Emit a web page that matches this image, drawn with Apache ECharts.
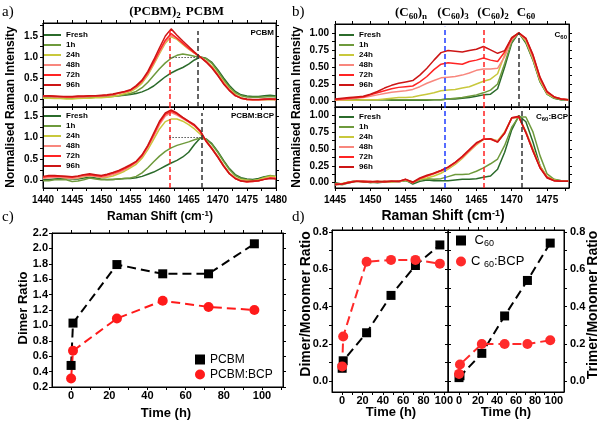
<!DOCTYPE html>
<html>
<head>
<meta charset="utf-8">
<script src="https://cdn.jsdelivr.net/npm/echarts@6/dist/echarts.min.js"></script>
<style>html,body{margin:0;padding:0;background:#fff;}#chart{width:600px;height:425px;}</style>
</head>
<body>
<div id="chart"></div>
<script>
// ===================== DATA =====================
const seriesNames = ['Fresh', '1h', '24h', '48h', '72h', '96h'];
const seriesColors = ['#2b6b2b', '#6e9a3c', '#c8c83c', '#f8877e', '#ff2424', '#cc1515'];

// Raman shift grids (cm-1)
const shiftA = [1440,1441,1442,1443,1444,1445,1446,1447,1448,1449,1450,1451,1452,1453,1454,1455,1456,1457,1458,1459,1460,1461,1462,1463,1464,1465,1466,1467,1468,1469,1470,1471,1472,1473,1474,1475,1476,1477,1478,1479,1480];
const shiftB = [1445,1446,1447,1448,1449,1450,1451,1452,1453,1454,1455,1456,1457,1458,1459,1460,1461,1462,1463,1464,1465,1466,1467,1468,1469,1470,1471,1472,1473,1474,1475,1476,1477,1478];

// Panel a (top): PCBM
const pcbmFresh = [0.05,0.06,0.05,0.04,0.04,0.03,0.04,0.05,0.05,0.06, 0.06,0.06,0.07,0.08,0.09,0.11,0.13,0.17,0.23,0.31, 0.42,0.53,0.62,0.69,0.75,0.83,0.93,1.00,0.97,0.87, 0.70,0.50,0.32,0.18,0.10,0.07,0.06,0.06,0.08,0.09, 0.07];
const pcbm1h    = [0.03,0.03,0.02,0.02,0.02,0.02,0.02,0.03,0.03,0.04, 0.04,0.05,0.06,0.08,0.10,0.13,0.18,0.27,0.40,0.56, 0.72,0.86,0.97,1.04,1.07,1.05,1.02,1.00,0.96,0.85, 0.66,0.46,0.28,0.15,0.08,0.05,0.04,0.04,0.05,0.06, 0.05];
const pcbm24h   = [0.02,0.02,0.01,0.01,0.00,0.00,0.01,0.02,0.02,0.03, 0.03,0.04,0.06,0.09,0.13,0.17,0.26,0.38,0.57,0.82, 1.08,1.33,1.48,1.42,1.30,1.19,1.09,1.00,0.91,0.78, 0.60,0.41,0.24,0.11,0.03,-0.01,-0.02,-0.02,-0.02,-0.01, -0.02];
const pcbm48h   = [0.06,0.06,0.05,0.05,0.04,0.04,0.05,0.05,0.06,0.07, 0.07,0.08,0.10,0.13,0.16,0.20,0.29,0.41,0.60,0.85, 1.11,1.36,1.52,1.44,1.32,1.20,1.10,1.00,0.90,0.76, 0.58,0.39,0.22,0.09,0.02,-0.01,-0.02,-0.02,-0.01,-0.01, -0.02];
const pcbm72h   = [0.07,0.07,0.06,0.06,0.05,0.05,0.06,0.06,0.07,0.08, 0.08,0.09,0.11,0.14,0.17,0.21,0.30,0.43,0.63,0.88, 1.15,1.40,1.56,1.45,1.33,1.21,1.10,1.00,0.89,0.75, 0.57,0.37,0.21,0.08,0.02,-0.01,-0.02,-0.02,-0.01,0.00, -0.01];
const pcbm96h   = [0.07,0.08,0.07,0.06,0.06,0.06,0.07,0.07,0.08,0.08, 0.09,0.10,0.12,0.15,0.18,0.22,0.32,0.45,0.66,0.93, 1.22,1.50,1.67,1.52,1.38,1.25,1.12,1.00,0.88,0.74, 0.56,0.36,0.20,0.08,0.02,0.00,-0.01,-0.01,0.00,0.00, 0.00];

// Panel a (bottom): PCBM:BCP
const pcbmBcpFresh = [0.02,0.03,0.04,0.05,0.05,0.04,0.04,0.06,0.08,0.06, 0.04,0.03,0.03,0.04,0.05,0.05,0.07,0.10,0.15,0.20, 0.27,0.34,0.41,0.47,0.55,0.66,0.84,0.99,0.97,0.86, 0.68,0.47,0.28,0.14,0.07,0.04,0.03,0.05,0.09,0.11, 0.09];
const pcbmBcp1h    = [0.00,0.00,0.02,0.03,0.02,-0.02,-0.01,0.02,0.06,0.04, 0.02,0.02,0.03,0.04,0.05,0.06,0.10,0.18,0.30,0.44, 0.57,0.68,0.76,0.82,0.86,0.90,0.95,0.99,0.96,0.84, 0.66,0.45,0.26,0.12,0.05,0.02,0.01,0.03,0.08,0.12, 0.10];
const pcbmBcp24h   = [0.08,0.10,0.09,0.08,0.07,0.05,0.06,0.09,0.12,0.10, 0.07,0.08,0.11,0.16,0.22,0.30,0.38,0.52,0.72,0.96, 1.20,1.37,1.43,1.43,1.38,1.30,1.20,1.08,0.93,0.76, 0.57,0.36,0.18,0.07,0.02,0.01,0.00,0.02,0.06,0.10, 0.09];
const pcbmBcp48h   = [0.05,0.07,0.08,0.08,0.06,0.05,0.07,0.10,0.12,0.10, 0.08,0.10,0.14,0.19,0.25,0.33,0.42,0.56,0.77,1.03, 1.30,1.50,1.58,1.52,1.44,1.36,1.27,1.13,0.92,0.75, 0.56,0.35,0.17,0.06,0.00,-0.02,-0.02,0.00,0.04,0.07, 0.06];
const pcbmBcp72h   = [0.08,0.10,0.11,0.10,0.09,0.08,0.10,0.13,0.14,0.12, 0.10,0.13,0.17,0.22,0.28,0.35,0.44,0.58,0.80,1.07, 1.35,1.54,1.61,1.55,1.46,1.37,1.28,1.14,0.91,0.74, 0.55,0.34,0.16,0.05,-0.01,-0.03,-0.02,0.00,0.03,0.06, 0.05];
const pcbmBcp96h   = [0.10,0.12,0.12,0.11,0.10,0.09,0.11,0.14,0.16,0.14, 0.12,0.15,0.19,0.24,0.30,0.37,0.45,0.60,0.82,1.10, 1.38,1.57,1.64,1.57,1.47,1.38,1.30,1.16,0.92,0.74, 0.55,0.34,0.16,0.05,-0.01,-0.02,-0.01,0.00,0.03,0.05, 0.04];

// Panel b (top): C60
const c60Fresh = [0.02,0.02,0.02,0.02,0.02,0.02,0.02,0.02,0.01,0.01, 0.01,0.01,0.01,0.01,0.02,0.02,0.03,0.03,0.04,0.05, 0.07,0.09,0.10,0.18,0.50,0.85,1.00,0.85,0.60,0.28, 0.10,0.04,0.02,0.02];
const c601h    = [0.02,0.02,0.02,0.02,0.02,0.02,0.02,0.02,0.02,0.02, 0.02,0.02,0.02,0.02,0.02,0.02,0.03,0.04,0.05,0.07, 0.09,0.12,0.16,0.25,0.55,0.87,1.00,0.87,0.61,0.29, 0.10,0.04,0.02,0.02];
const c6024h   = [0.01,0.01,0.01,0.01,0.02,0.02,0.02,0.03,0.04,0.05, 0.05,0.06,0.08,0.10,0.12,0.15,0.16,0.17,0.19,0.21, 0.25,0.29,0.32,0.40,0.68,0.93,1.00,0.88,0.62,0.30, 0.11,0.05,0.03,0.02];
const c6048h   = [0.02,0.02,0.03,0.04,0.05,0.07,0.09,0.11,0.13,0.14, 0.15,0.17,0.21,0.26,0.30,0.34,0.35,0.36,0.38,0.41, 0.45,0.47,0.47,0.48,0.65,0.90,1.00,0.90,0.64,0.32, 0.12,0.06,0.03,0.02];
const c6072h   = [0.02,0.03,0.04,0.05,0.06,0.09,0.12,0.15,0.18,0.20, 0.21,0.22,0.28,0.36,0.46,0.54,0.56,0.55,0.54,0.58, 0.60,0.63,0.60,0.58,0.72,0.92,1.00,0.92,0.67,0.34, 0.13,0.06,0.03,0.02];
const c6096h   = [0.03,0.04,0.05,0.06,0.07,0.10,0.14,0.19,0.23,0.26, 0.28,0.30,0.38,0.48,0.60,0.71,0.74,0.73,0.72,0.74, 0.76,0.80,0.75,0.70,0.74,0.93,1.00,0.92,0.68,0.35, 0.14,0.06,0.03,0.02];

// Panel b (bottom): C60:BCP
const c60BcpFresh = [0.00,-0.02,0.01,0.03,0.02,0.01,0.00,0.01,0.02,0.01, 0.04,-0.02,0.02,0.04,0.03,0.03,0.03,0.04,0.05,0.05, 0.06,0.08,0.10,0.20,0.45,0.78,0.99,0.90,0.60,0.25, 0.08,0.04,0.03,0.03];
const c60Bcp1h    = [-0.02,-0.03,0.00,0.02,0.02,0.00,0.01,0.02,0.01,0.02, 0.03,0.00,0.04,0.06,0.05,0.06,0.09,0.12,0.12,0.13, 0.17,0.22,0.28,0.35,0.55,0.82,0.97,0.97,0.75,0.40, 0.13,0.05,0.03,0.03];
const c60Bcp24h   = [-0.03,-0.01,0.01,0.02,0.01,0.01,0.02,0.01,0.01,0.02, 0.04,0.01,0.05,0.07,0.10,0.14,0.20,0.27,0.36,0.46, 0.56,0.64,0.65,0.62,0.75,0.95,0.97,0.76,0.50,0.25, 0.09,0.04,0.02,0.02];
const c60Bcp48h   = [-0.03,-0.02,0.00,0.03,0.02,0.01,0.02,0.01,0.02,0.01, 0.05,0.00,0.06,0.10,0.13,0.17,0.22,0.29,0.37,0.47, 0.57,0.65,0.65,0.61,0.73,0.95,0.97,0.74,0.48,0.23, 0.08,0.03,0.02,0.02];
const c60Bcp72h   = [-0.02,-0.02,0.01,0.02,0.02,0.02,0.01,0.02,0.02,0.02, 0.05,0.00,0.06,0.10,0.14,0.18,0.23,0.30,0.38,0.48, 0.58,0.64,0.64,0.60,0.74,0.96,0.97,0.74,0.47,0.22, 0.08,0.03,0.02,0.02];
const c60Bcp96h   = [-0.03,-0.02,0.00,0.02,0.01,0.01,0.02,0.01,0.02,0.02, 0.05,0.01,0.07,0.11,0.14,0.18,0.23,0.30,0.39,0.49, 0.59,0.64,0.65,0.60,0.73,0.96,0.98,0.74,0.47,0.22, 0.07,0.03,0.02,0.02];

// Marker lines (peak positions, cm-1)
const peakA = {dimerTop: 1461.7, monoTop: 1466.6, dimerBot: 1461.7, monoBot: 1467.2};
const peakB = {nmer: 1460.5, dimer: 1466.1, monoTop: 1471.0, monoBot: 1471.4};

// Panels c, d: ageing time (h) and ratios
const timeH = [0, 1, 24, 48, 72, 96];
const dimerPCBM    = [0.48, 1.03, 1.79, 1.67, 1.67, 2.06];
const dimerPCBMBCP = [0.31, 0.67, 1.09, 1.32, 1.24, 1.20];
const dimerMonoC60    = [0.07, 0.11, 0.26, 0.46, 0.62, 0.73];
const dimerMonoC60BCP = [0.08, 0.24, 0.64, 0.65, 0.65, 0.63];
const trimerMonoC60    = [0.02, 0.03, 0.15, 0.35, 0.54, 0.74];
const trimerMonoC60BCP = [0.04, 0.09, 0.20, 0.20, 0.20, 0.22];

// Tick values
const aTicksX = [1440,1445,1450,1455,1460,1465,1470,1475,1480];
const aMinorX = [1442.5,1447.5,1452.5,1457.5,1462.5,1467.5,1472.5,1477.5];
const aTicksY = [0, 0.5, 1.0, 1.5];
const aMinorY = [0.25, 0.75, 1.25];
const bTicksX = [1445,1450,1455,1460,1465,1470,1475];
const bMinorX = [1447.5,1452.5,1457.5,1462.5,1467.5,1472.5,1477.5];
const bTicksY = [0, 0.25, 0.5, 0.75, 1.0];
const bMinorY = [0.125, 0.375, 0.625, 0.875];
const cTicksX = [0, 20, 40, 60, 80, 100];
const cMinorX = [10, 30, 50, 70, 90, 110];
const cTicksY = [0.2,0.4,0.6,0.8,1.0,1.2,1.4,1.6,1.8,2.0,2.2];
const dTicksX = [0, 20, 40, 60, 80, 100];
const dMinorX = [10, 30, 50, 70, 90];
const dTicksY = [0, 0.2, 0.4, 0.6, 0.8];
const dMinorY = [0.1, 0.3, 0.5, 0.7];

// ===================== CHART =====================
const FF = '"Liberation Sans", Arial, Helvetica, sans-serif';
const SERIF = '"Liberation Serif", "Times New Roman", serif';
const chart = echarts.init(document.getElementById('chart'), null, {renderer: 'canvas', width: 600, height: 425});

const grids = [
  {left: 43, top: 23, width: 233, height: 84},
  {left: 43, top: 107, width: 233, height: 81},
  {left: 335, top: 24, width: 234, height: 83},
  {left: 335, top: 107, width: 234, height: 81},
  {left: 52, top: 233, width: 231, height: 154},
  {left: 332, top: 230, width: 116, height: 162},
  {left: 448, top: 230, width: 116, height: 162}
].map(g => Object.assign({show: true, borderColor: '#000', borderWidth: 1, backgroundColor: 'transparent', containLabel: false}, g));

const xAxes = [], yAxes = [];
function mkAxis(gi, pos, range, ticks, labels, lab) {
  return {
    gridIndex: gi, type: 'value', position: pos, min: range[0], max: range[1],
    axisLine: {show: true, onZero: false, lineStyle: {color: '#000', width: 1}},
    axisTick: {show: true, inside: false, length: 3, customValues: ticks, lineStyle: {color: '#000', width: 1}},
    axisLabel: lab ? {show: true, customValues: labels, formatter: lab.fmt, fontSize: lab.size, fontWeight: 'bold',
      fontFamily: FF, color: '#000', margin: lab.margin} : {show: false},
    splitLine: {show: false}, minorTick: {show: false}, minorSplitLine: {show: false}
  };
}
function addAxes(gi, xr, yr, xt, xl, yt, yl, xLab, yLab, yRight) {
  xAxes.push(mkAxis(gi, 'bottom', xr, xt, xl, xLab)); const xi = xAxes.length - 1;
  xAxes.push(mkAxis(gi, 'top', xr, xt, xl, null));
  yAxes.push(mkAxis(gi, 'left', yr, yt, yl, yRight ? null : yLab)); const yi = yAxes.length - 1;
  yAxes.push(mkAxis(gi, 'right', yr, yt, yl, yRight ? yLab : null));
  return [xi, yi];
}
const f0 = v => String(Math.round(v));
const f1 = v => v.toFixed(1);
const f2 = v => v.toFixed(2);

const rA1 = [-0.19, 1.81], rA2 = [-0.17, 1.71], rB1 = [-0.088, 1.13], rB2 = [-0.078, 1.118];
const axA1 = addAxes(0, [1440, 1480], rA1, aTicksX.concat(aMinorX), aTicksX, aTicksY.concat(aMinorY, [1.75]), aTicksY,
  null, {fmt: f1, size: 10, margin: 5});
const axA2 = addAxes(1, [1440, 1480], rA2, aTicksX.concat(aMinorX), aTicksX, aTicksY.concat(aMinorY), aTicksY,
  {fmt: f0, size: 10, margin: 7}, {fmt: f1, size: 10, margin: 5});
const axB1 = addAxes(2, [1445, 1478.1], rB1, bTicksX.concat(bMinorX), bTicksX, bTicksY.concat(bMinorY), bTicksY,
  null, {fmt: f2, size: 10, margin: 6});
const axB2 = addAxes(3, [1445, 1478.1], rB2, bTicksX.concat(bMinorX), bTicksX, bTicksY.concat(bMinorY), bTicksY,
  {fmt: f0, size: 10, margin: 7}, {fmt: f2, size: 10, margin: 6});
const rC = [0.2, 2.2];
const axC = addAxes(4, [-10, 111], rC, cTicksX.concat(cMinorX), cTicksX, cTicksY, cTicksY,
  {fmt: f0, size: 11, margin: 3}, {fmt: f1, size: 11, margin: 4});
const rD = [-0.057, 0.81];
const axD1 = addAxes(5, [-10, 104], rD, dTicksX.concat(dMinorX), dTicksX, dTicksY.concat(dMinorY), dTicksY,
  {fmt: f0, size: 11, margin: 3}, {fmt: f1, size: 11, margin: 4});
const axD2 = addAxes(6, [-11.6, 110.5], rD, dTicksX.concat(dMinorX), dTicksX, dTicksY.concat(dMinorY), dTicksY,
  {fmt: f0, size: 11, margin: 3}, {fmt: f1, size: 11, margin: 6}, true);

const pairs = (xs, ys) => xs.map((x, i) => [x, ys[i]]);
const series = [];
function spectra(ax, xs, sets, markData) {
  sets.forEach((ys, i) => {
    const s = {
      type: 'line', name: seriesNames[i], xAxisIndex: ax[0], yAxisIndex: ax[1], data: pairs(xs, ys),
      symbol: 'none', showSymbol: false, smooth: false, animation: false,
      lineStyle: {color: seriesColors[i], width: 1.5}, itemStyle: {color: seriesColors[i]},
      emphasis: {disabled: true}
    };
    if (i === sets.length - 1 && markData) {
      s.markLine = {silent: true, symbol: ['none', 'none'], label: {show: false}, animation: false,
        emphasis: {disabled: true}, data: markData};
    }
    series.push(s);
  });
}
const vl = (x, y1, y2, color, type, w) => [{coord: [x, y1], lineStyle: {color: color, type: type, width: w || 1.5}}, {coord: [x, y2]}];
const RED = '#ff2020', BLK = '#333', BLU = '#1f3dff', DOT = '#555';

spectra(axA1, shiftA, [pcbmFresh, pcbm1h, pcbm24h, pcbm48h, pcbm72h, pcbm96h], [
  vl(peakA.dimerTop, rA1[0], 1.69, RED, [5, 3]),
  vl(peakA.monoTop, rA1[0], 1.62, BLK, [5, 3]),
  [{coord: [peakA.dimerTop, 1.0], lineStyle: {color: DOT, type: [1.5, 1.5], width: 1}}, {coord: [peakA.monoTop, 1.0]}]
]);
spectra(axA2, shiftA, [pcbmBcpFresh, pcbmBcp1h, pcbmBcp24h, pcbmBcp48h, pcbmBcp72h, pcbmBcp96h], [
  vl(peakA.dimerBot, rA2[0], rA2[1], RED, [5, 3]),
  vl(peakA.monoBot, rA2[0], 1.57, BLK, [5, 3]),
  [{coord: [peakA.dimerBot, 1.0], lineStyle: {color: DOT, type: [1.5, 1.5], width: 1}}, {coord: [peakA.monoBot, 1.0]}]
]);
spectra(axB1, shiftB, [c60Fresh, c601h, c6024h, c6048h, c6072h, c6096h], [
  vl(peakB.nmer, rB1[0], 1.09, BLU, [5, 3]),
  vl(peakB.dimer, rB1[0], 1.07, RED, [5, 3]),
  vl(peakB.monoTop, rB1[0], 1.0, BLK, [5, 3])
]);
spectra(axB2, shiftB, [c60BcpFresh, c60Bcp1h, c60Bcp24h, c60Bcp48h, c60Bcp72h, c60Bcp96h], [
  vl(peakB.nmer, rB2[0], rB2[1], BLU, [5, 3]),
  vl(peakB.dimer, rB2[0], rB2[1], RED, [5, 3]),
  vl(peakB.monoBot, rB2[0], rB2[1], BLK, [5, 3])
]);

function ratio(name, ax, ys, sym, color, size) {
  series.push({
    type: 'line', name: name, xAxisIndex: ax[0], yAxisIndex: ax[1], data: pairs(timeH, ys),
    symbol: sym, symbolSize: size, showSymbol: true, animation: false,
    lineStyle: {color: color, width: 2, type: [9, 5]}, itemStyle: {color: color, opacity: 1},
    emphasis: {disabled: true}, z: 3
  });
}
ratio('PCBM', axC, dimerPCBM, 'rect', '#000', 9);
ratio('PCBM:BCP', axC, dimerPCBMBCP, 'circle', '#ff1a1a', 10);
ratio('C60', axD1, dimerMonoC60, 'rect', '#000', 9);
ratio('C60:BCP', axD1, dimerMonoC60BCP, 'circle', '#ff2a2a', 10);
ratio('C60', axD2, trimerMonoC60, 'rect', '#000', 9);
ratio('C60:BCP', axD2, trimerMonoC60BCP, 'circle', '#ff2a2a', 10);

const specLegend = (left, top, w) => ({
  data: seriesNames.map(n => ({name: n, icon: 'rect'})), left: left, top: top, orient: 'vertical',
  itemWidth: w, itemHeight: 2, itemGap: 0, selectedMode: false, padding: 0,
  textStyle: {fontSize: 8, lineHeight: 10, fontWeight: 'bold', fontFamily: FF, color: '#000'}
});
const legends = [
  specLegend(44, 30, 17), specLegend(44, 111, 17), specLegend(339, 30, 15), specLegend(339, 112, 15),
  {data: [{name: 'PCBM', icon: 'rect'}, {name: 'PCBM:BCP', icon: 'circle'}], left: 195, top: 353.5, orient: 'vertical',
    itemWidth: 10, itemHeight: 10, itemGap: 3, selectedMode: false, padding: 0,
    textStyle: {fontSize: 12, fontFamily: FF, color: '#000'}},
  {data: [{name: 'C60', icon: 'rect'}, {name: 'C60:BCP', icon: 'circle'}], left: 456, top: 234, orient: 'vertical',
    itemWidth: 10, itemHeight: 10, itemGap: 7, selectedMode: false, padding: 0,
    formatter: n => n === 'C60' ? ' C{s|60}' : 'C {s|60}:BCP',
    textStyle: {fontSize: 13, fontFamily: FF, color: '#000', rich: {s: {fontSize: 9, fontFamily: FF, color: '#000', padding: [6, 0, 0, 0]}}}}
];

// ----- text annotations -----
function T(x, y, text, size, weight, family, align, rot, rich) {
  return {type: 'text', x: x, y: y, rotation: rot || 0, silent: true, z: 100,
    style: {text: text, fontSize: size, fontWeight: weight, fontFamily: family, fill: '#000',
      align: align || 'center', verticalAlign: 'middle', textAlign: align || 'center', textVerticalAlign: 'middle', rich: rich}};
}
const subSerif = {s: {fontSize: 9, fontWeight: 'bold', fontFamily: SERIF, fill: '#000', color: '#000', padding: [7, 0, 0, 0]}};
const subSans = {s: {fontSize: 6, fontWeight: 'bold', fontFamily: FF, fill: '#000', color: '#000', padding: [4, 0, 0, 0]}};
const supSans = (sz) => ({p: {fontSize: sz, fontWeight: 'bold', fontFamily: FF, fill: '#000', color: '#000', padding: [0, 0, 6, 0]}});
const R90 = Math.PI / 2;
const graphics = [
  T(2, 12, 'a)', 15, 'normal', SERIF, 'left'),
  T(292, 12, 'b)', 15, 'normal', SERIF, 'left'),
  T(2, 217, 'c)', 15, 'normal', SERIF, 'left'),
  T(292, 217, 'd)', 15, 'normal', SERIF, 'left'),
  T(155, 12, '(PCBM){s|2}', 13, 'bold', SERIF, 'center', 0, subSerif),
  T(205, 12, 'PCBM', 13, 'bold', SERIF, 'center'),
  T(411, 13, '(C{s|60}){s|n}', 13, 'bold', SERIF, 'center', 0, subSerif),
  T(453, 13, '(C{s|60}){s|3}', 13, 'bold', SERIF, 'center', 0, subSerif),
  T(493, 13, '(C{s|60}){s|2}', 13, 'bold', SERIF, 'center', 0, subSerif),
  T(526, 13, 'C{s|60}', 13, 'bold', SERIF, 'center', 0, subSerif),
  T(274, 33, 'PCBM', 8, 'bold', FF, 'right'),
  T(274, 116, 'PCBM:BCP', 8, 'bold', FF, 'right'),
  T(567, 35, 'C{s|60}', 8, 'bold', FF, 'right', 0, subSans),
  T(568, 117, 'C{s|60}:BCP', 8, 'bold', FF, 'right', 0, subSans),
  T(160, 216.5, 'Raman Shift (cm{p|-1})', 12, 'bold', FF, 'center', 0, supSans(8)),
  T(443, 216.5, 'Raman Shift (cm{p|-1})', 14, 'bold', FF, 'center', 0, supSans(9)),
  T(11, 107, 'Normalised Raman Intensity', 12, 'bold', FF, 'center', R90),
  T(297, 107, 'Normalised Raman Intensity', 12, 'bold', FF, 'center', R90),
  T(23, 308, 'Dimer Ratio', 13, 'bold', FF, 'center', R90),
  T(166, 413, 'Time (h)', 13, 'bold', FF, 'center'),
  T(306, 304, 'Dimer/Monomer Ratio', 14, 'bold', FF, 'center', R90),
  T(593, 305, 'Trimer/Monomer Ratio', 14, 'bold', FF, 'center', R90),
  T(391, 412, 'Time (h)', 13, 'bold', FF, 'center'),
  T(506, 412, 'Time (h)', 13, 'bold', FF, 'center')
];

chart.setOption({
  animation: false,
  backgroundColor: '#fff',
  grid: grids,
  xAxis: xAxes,
  yAxis: yAxes,
  legend: legends,
  series: series,
  graphic: graphics
});
</script>
</body>
</html>
